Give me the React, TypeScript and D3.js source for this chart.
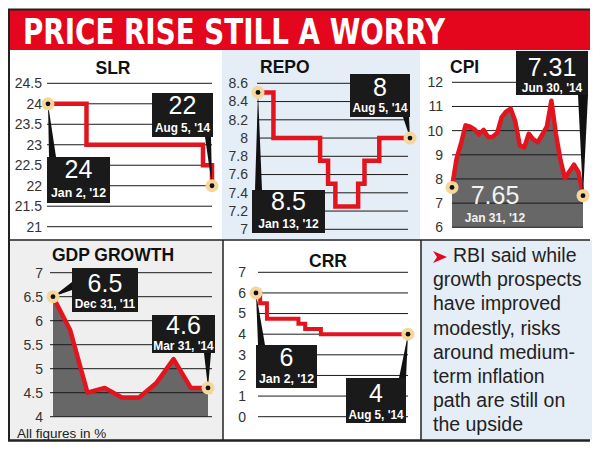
import React from "react";
import * as d3 from "d3";

// ---------- data ----------
const slrDates = ["2012-01-02", "2012-08-11", "2014-06-14", "2014-08-05"];
const slrValues = [24, 23, 22.5, 22];
const slrTicks = [21, 21.5, 22, 22.5, 23, 23.5, 24, 24.5];

const repoDates = ["2012-01-13", "2012-04-17", "2013-01-29", "2013-03-19", "2013-05-03", "2013-09-20", "2013-10-29", "2014-01-28", "2014-08-05"];
const repoValues = [8.5, 8.0, 7.75, 7.5, 7.25, 7.5, 7.75, 8.0, 8.0];
const repoTicks = [7, 7.2, 7.4, 7.6, 7.8, 8, 8.2, 8.4, 8.6];

const cpiMonths = ["Jan '12", "Feb '12", "Mar '12", "Apr '12", "May '12", "Jun '12", "Jul '12", "Aug '12", "Sep '12", "Oct '12", "Nov '12", "Dec '12",
  "Jan '13", "Feb '13", "Mar '13", "Apr '13", "May '13", "Jun '13", "Jul '13", "Aug '13", "Sep '13", "Oct '13", "Nov '13", "Dec '13",
  "Jan '14", "Feb '14", "Mar '14", "Apr '14", "May '14", "Jun '14"];
const cpiValues = [7.65, 8.83, 9.47, 10.22, 10.16, 10.05, 9.84, 10.03, 9.73, 9.75, 9.9, 10.56,
  10.79, 10.91, 10.39, 9.39, 9.31, 9.87, 9.64, 9.52, 9.84, 10.17, 11.24, 9.87,
  8.79, 8.03, 8.31, 8.59, 8.28, 7.31];
const cpiTicks = [6, 7, 8, 9, 10, 11, 12];

const gdpQuarters = ["Dec '11", "Mar '12", "Jun '12", "Sep '12", "Dec '12", "Mar '13", "Jun '13", "Sep '13", "Dec '13", "Mar '14"];
const gdpValues = [6.5, 5.8, 4.5, 4.6, 4.4, 4.4, 4.7, 5.2, 4.6, 4.6];
const gdpTicks = [4, 4.5, 5, 5.5, 6, 6.5, 7];

const crrDates = ["2012-01-02", "2012-01-28", "2012-03-10", "2012-09-22", "2012-11-03", "2013-02-09", "2014-08-05"];
const crrValues = [6, 5.5, 4.75, 4.5, 4.25, 4.0, 4.0];
const crrTicks = [0, 1, 2, 3, 4, 5, 6, 7];

const noteLines = ["RBI said while", "growth prospects", "have improved", "modestly, risks", "around medium-", "term inflation", "path are still on", "the upside"];

// ---------- styles ----------
const NARROW = "'Liberation Sans Narrow', 'DejaVu Sans Condensed', 'Roboto Condensed', 'Liberation Sans', sans-serif";
const SANS = "'Liberation Sans', Arial, sans-serif";
const RED = "#e3061c";
const LINE_RED = "#e2151f";
const PEACH = "#f6d69c";
const BLUE_BG = "#e5edf6";
const GREY_BG = "#efefef";
const AREA = "#676767";

const parse = d3.timeParse("%Y-%m-%d");

type Pt = [number, number];

function Marker({ p }: { p: Pt }) {
  return (
    <g>
      <circle cx={p[0]} cy={p[1]} r={6.5} fill={PEACH} />
      <circle cx={p[0]} cy={p[1]} r={2.4} fill="#111" />
    </g>
  );
}

function DateText({ x, y, text, fill = "#fff" }: { x: number; y: number; text: string; fill?: string }) {
  return (
    <text x={x} y={y} textAnchor="middle" fill={fill} fontFamily={SANS} fontWeight="bold" fontSize={13}
      textLength={text.length * 5.5} lengthAdjust="spacingAndGlyphs">{text}</text>
  );
}

function Callout({ box, big, small, bigY, smallY, tail, tip }: {
  box: [number, number, number, number]; big: string; small: string; bigY: number; smallY: number; tail: [Pt, Pt]; tip: Pt;
}) {
  const [x0, y0, x1, y1] = box;
  const cx = (x0 + x1) / 2;
  return (
    <g>
      <polygon points={`${tail[0][0]},${tail[0][1]} ${tail[1][0]},${tail[1][1]} ${tip[0]},${tip[1]}`} fill="#111" />
      <rect x={x0} y={y0} width={x1 - x0} height={y1 - y0} fill="#1a1a1a" />
      <text x={cx} y={bigY} textAnchor="middle" fill="#fff" fontFamily={SANS} fontSize={25}>{big}</text>
      <DateText x={cx} y={smallY} text={small} />
    </g>
  );
}

function Grid({ ticks, y, x0, x1, labelX }: { ticks: number[]; y: d3.ScaleLinear<number, number>; x0: number; x1: number; labelX: number }) {
  return (
    <g>
      {ticks.map((t) => (
        <g key={t}>
          <line x1={x0} x2={x1} y1={y(t)} y2={y(t)} stroke="#1a1a1a" strokeWidth={1} />
          <text x={labelX} y={y(t)} dy="0.35em" textAnchor="end" fontFamily={SANS} fontSize={14} fill="#333">{t}</text>
        </g>
      ))}
    </g>
  );
}

function PanelTitle({ x, y, text, anchor = "middle" }: { x: number; y: number; text: string; anchor?: string }) {
  return <text x={x} y={y} textAnchor={anchor as any} fontFamily={SANS} fontWeight="bold" fontSize={17.5} fill="#111">{text}</text>;
}

export default function App() {
  // SLR
  const slrD = slrDates.map((d) => parse(d)!);
  const slrX = d3.scaleTime().domain([slrD[0], slrD[slrD.length - 1]]).range([48, 212]);
  const slrY = d3.scaleLinear().domain([21, 24.5]).range([226.7, 83.3]);
  const slrLine = d3.line<number>().x((_, i) => slrX(slrD[i])).y((v) => slrY(v)).curve(d3.curveStepAfter);
  const slrStart: Pt = [slrX(slrD[0]), slrY(slrValues[0])];
  const slrEnd: Pt = [slrX(slrD[slrD.length - 1]), slrY(slrValues[slrValues.length - 1])];

  // REPO
  const repoD = repoDates.map((d) => parse(d)!);
  const repoX = d3.scaleTime().domain([repoD[0], repoD[repoD.length - 1]]).range([258, 410]);
  const repoY = d3.scaleLinear().domain([7, 8.6]).range([229.3, 83.3]);
  const repoLine = d3.line<number>().x((_, i) => repoX(repoD[i])).y((v) => repoY(v)).curve(d3.curveStepAfter);
  const repoStart: Pt = [repoX(repoD[0]), repoY(repoValues[0])];
  const repoEnd: Pt = [repoX(repoD[repoD.length - 1]), repoY(repoValues[repoValues.length - 1])];

  // CPI
  const cpiX = d3.scaleLinear().domain([0, cpiValues.length - 1]).range([452, 583]);
  const cpiY = d3.scaleLinear().domain([6, 12]).range([227.3, 82.3]);
  const cpiLine = d3.line<number>().x((_, i) => cpiX(i)).y((v) => cpiY(v));
  const cpiArea = d3.area<number>().x((_, i) => cpiX(i)).y0(cpiY(6)).y1((v) => cpiY(v));
  const cpiStart: Pt = [cpiX(0), cpiY(cpiValues[0])];
  const cpiEnd: Pt = [cpiX(cpiValues.length - 1), cpiY(cpiValues[cpiValues.length - 1])];

  // GDP
  const gdpX = d3.scaleLinear().domain([0, gdpValues.length - 1]).range([53, 208]);
  const gdpY = d3.scaleLinear().domain([4, 7]).range([416.7, 272.7]);
  const gdpLine = d3.line<number>().x((_, i) => gdpX(i)).y((v) => gdpY(v));
  const gdpArea = d3.area<number>().x((_, i) => gdpX(i)).y0(gdpY(4)).y1((v) => gdpY(v));
  const gdpStart: Pt = [gdpX(0), gdpY(gdpValues[0])];
  const gdpEnd: Pt = [gdpX(gdpValues.length - 1), gdpY(gdpValues[gdpValues.length - 1])];

  // CRR
  const crrD = crrDates.map((d) => parse(d)!);
  const crrX = d3.scaleTime().domain([crrD[0], crrD[crrD.length - 1]]).range([256, 408]);
  const crrY = d3.scaleLinear().domain([0, 7]).range([416.7, 272.3]);
  const crrLine = d3.line<number>().x((_, i) => crrX(crrD[i])).y((v) => crrY(v)).curve(d3.curveStepAfter);
  const crrStart: Pt = [crrX(crrD[0]), crrY(crrValues[0])];
  const crrEnd: Pt = [crrX(crrD[crrD.length - 1]), crrY(crrValues[crrValues.length - 1])];

  const fmtD = d3.timeFormat("%b %-d, '%y");

  return (
    <svg width={600} height={452} style={{ position: "absolute", left: 0, top: 0, background: "#fff" }}>
      {/* backgrounds */}
      <rect x={0} y={0} width={600} height={452} fill="#fff" />
      <rect x={222} y={50} width={198} height={189} fill={BLUE_BG} />
      <rect x={9} y={240} width={214} height={200} fill={GREY_BG} />
      <rect x={421} y={240} width={171} height={200} fill={BLUE_BG} />

      {/* title bar */}
      <rect x={8} y={10} width={582} height={40} fill={RED} />
      <line x1={8} x2={590} y1={9.5} y2={9.5} stroke="#222" strokeWidth={2} />
      <text x={23} y={44} fill="#fff" fontFamily={NARROW} fontWeight="bold" fontSize={36} textLength={422} lengthAdjust="spacingAndGlyphs">PRICE RISE STILL A WORRY</text>

      {/* frame lines */}
      <line x1={9} x2={9} y1={10} y2={441} stroke="#222" strokeWidth={2} />
      <line x1={9} x2={590} y1={240} y2={240} stroke="#222" strokeWidth={1.5} />
      <line x1={223} x2={223} y1={240} y2={440} stroke="#222" strokeWidth={1.5} />
      <line x1={421} x2={421} y1={240} y2={440} stroke="#222" strokeWidth={1.5} />
      <line x1={8} x2={590} y1={440.5} y2={440.5} stroke="#222" strokeWidth={2.5} />

      {/* SLR */}
      <PanelTitle x={113} y={74} text="SLR" />
      <Grid ticks={slrTicks} y={slrY} x0={47} x1={212} labelX={42} />
      <path d={slrLine(slrValues)!} fill="none" stroke={LINE_RED} strokeWidth={4.5} />
      <Callout box={[152, 93, 213, 137]} big={String(slrValues[slrValues.length - 1])} small={fmtD(slrD[slrD.length - 1])} bigY={114} smallY={132} tail={[[205, 137], [211, 137]]} tip={slrEnd} />
      <Callout box={[47, 157, 110, 203]} big={String(slrValues[0])} small={fmtD(slrD[0])} bigY={178} smallY={197} tail={[[49, 157], [56, 157]]} tip={slrStart} />
      <Marker p={slrStart} />
      <Marker p={slrEnd} />

      {/* REPO */}
      <PanelTitle x={260} y={73} text="REPO" anchor="start" />
      <Grid ticks={repoTicks} y={repoY} x0={257} x1={408} labelX={248} />
      <path d={repoLine(repoValues)!} fill="none" stroke={LINE_RED} strokeWidth={4.5} />
      <Callout box={[350, 74, 410, 117]} big={String(repoValues[repoValues.length - 1])} small={fmtD(repoD[repoD.length - 1])} bigY={96} smallY={112} tail={[[403, 117], [409, 117]]} tip={repoEnd} />
      <Callout box={[252, 190, 325, 233]} big={String(repoValues[0])} small={fmtD(repoD[0])} bigY={210} smallY={228} tail={[[255, 190], [262, 190]]} tip={repoStart} />
      <Marker p={repoStart} />
      <Marker p={repoEnd} />

      {/* CPI */}
      <PanelTitle x={450} y={73} text="CPI" anchor="start" />
      <path d={cpiArea(cpiValues)!} fill={AREA} />
      <Grid ticks={cpiTicks} y={cpiY} x0={452} x1={583} labelX={443} />
      <path d={cpiLine(cpiValues)!} fill="none" stroke={LINE_RED} strokeWidth={4.5} strokeLinejoin="round" />
      <text x={495} y={204} textAnchor="middle" fill="#f2f2f2" fontFamily={SANS} fontSize={25}>{cpiValues[0].toFixed(2)}</text>
      <DateText x={495} y={222} text="Jan 31, '12" fill="#f2f2f2" />
      <Callout box={[516, 51, 588, 95]} big={cpiValues[cpiValues.length - 1].toFixed(2)} small="Jun 30, '14" bigY={76} smallY={92} tail={[[578, 95], [588, 95]]} tip={cpiEnd} />
      <Marker p={cpiStart} />
      <Marker p={cpiEnd} />

      {/* GDP */}
      <PanelTitle x={113} y={261} text="GDP GROWTH" />
      <path d={gdpArea(gdpValues)!} fill={AREA} />
      <Grid ticks={gdpTicks} y={gdpY} x0={50} x1={212} labelX={43} />
      <path d={gdpLine(gdpValues)!} fill="none" stroke={LINE_RED} strokeWidth={4.5} strokeLinejoin="round" />
      <Callout box={[72, 268, 138, 312]} big={gdpValues[0].toFixed(1)} small="Dec 31, '11" bigY={292} smallY={308} tail={[[72, 282], [72, 290]]} tip={gdpStart} />
      <Callout box={[152, 315, 215, 353]} big={gdpValues[gdpValues.length - 1].toFixed(1)} small="Mar 31, '14" bigY={334} smallY={350} tail={[[204, 353], [211, 353]]} tip={gdpEnd} />
      <Marker p={gdpStart} />
      <Marker p={gdpEnd} />
      <text x={17} y={437.5} fontFamily={SANS} fontSize={13.5} fill="#222">All figures in %</text>

      {/* CRR */}
      <PanelTitle x={328} y={267} text="CRR" />
      <Grid ticks={crrTicks} y={crrY} x0={258} x1={408} labelX={246} />
      <path d={crrLine(crrValues)!} fill="none" stroke={LINE_RED} strokeWidth={4} />
      <Callout box={[256, 345, 317, 388]} big={String(crrValues[0])} small={fmtD(crrD[0])} bigY={366} smallY={383} tail={[[258, 345], [265, 345]]} tip={crrStart} />
      <Callout box={[346, 378, 406, 423]} big={String(crrValues[crrValues.length - 1])} small={fmtD(crrD[crrD.length - 1])} bigY={402} smallY={419} tail={[[399, 378], [406, 378]]} tip={crrEnd} />
      <Marker p={crrStart} />
      <Marker p={crrEnd} />

      {/* note */}
      <polygon points="433,251 447,257 433,263 437,257" fill={RED} />
      {noteLines.map((t, i) => (
        <text key={i} x={i === 0 ? 453 : 433} y={262 + i * 24.2} fontFamily={SANS} fontSize={19.5} fill="#222">{t}</text>
      ))}
    </svg>
  );
}
